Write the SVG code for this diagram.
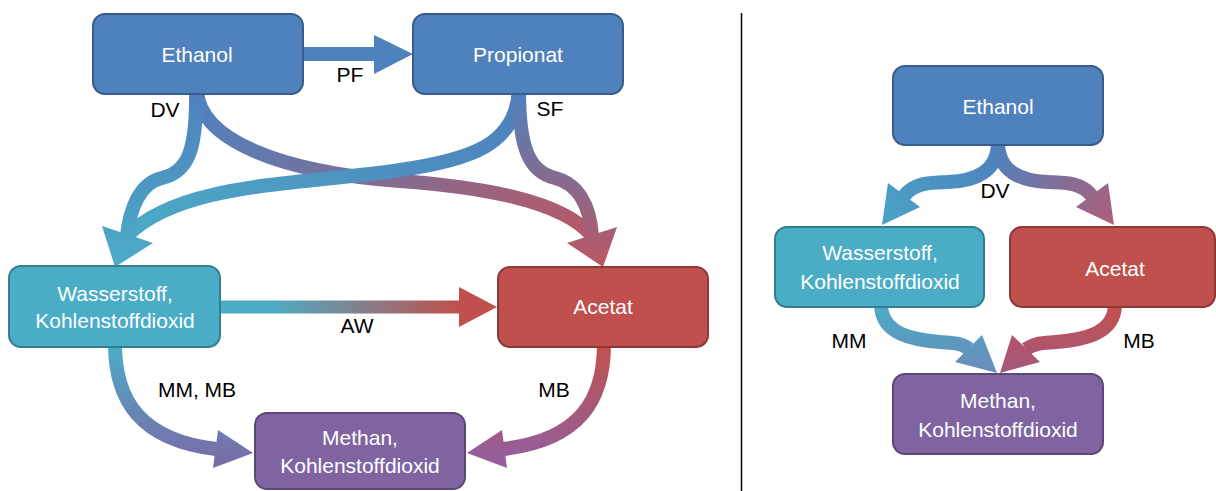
<svg xmlns="http://www.w3.org/2000/svg" width="1216" height="491" viewBox="0 0 1216 491">
<style>
.t{font-family:"Liberation Sans",Arial,sans-serif;font-size:21px;fill:#fff;text-anchor:middle}
.l{font-family:"Liberation Sans",Arial,sans-serif;font-size:21px;fill:#000;text-anchor:middle}
.sh{fill:none;stroke-width:14}
.blue{fill:#4F81BD;stroke:#385D8A;stroke-width:2}
.teal{fill:#4BACC6;stroke:#357D91;stroke-width:2}
.red{fill:#C0504D;stroke:#8C3836;stroke-width:2}
.purp{fill:#8064A2;stroke:#5C4776;stroke-width:2}
</style>
<defs>
<linearGradient id="gA1" gradientUnits="userSpaceOnUse" x1="0" y1="94" x2="0" y2="267"><stop offset="0" stop-color="#4F81BD"/><stop offset="1" stop-color="#4BACC6"/></linearGradient>
<linearGradient id="gA2" gradientUnits="userSpaceOnUse" x1="518" y1="94" x2="115" y2="267"><stop offset="0" stop-color="#4F81BD"/><stop offset="1" stop-color="#4BACC6"/></linearGradient>
<linearGradient id="gA3" gradientUnits="userSpaceOnUse" x1="197" y1="94" x2="603" y2="267"><stop offset="0" stop-color="#4F81BD"/><stop offset="1" stop-color="#BD5662"/></linearGradient>
<linearGradient id="gA4" gradientUnits="userSpaceOnUse" x1="0" y1="94" x2="0" y2="267"><stop offset="0" stop-color="#4F81BD"/><stop offset="1" stop-color="#BD5662"/></linearGradient>
<linearGradient id="gAW" gradientUnits="userSpaceOnUse" x1="270" y1="0" x2="460" y2="0"><stop offset="0" stop-color="#4BACC6"/><stop offset="1" stop-color="#C0504D"/></linearGradient>
<linearGradient id="gMM" gradientUnits="userSpaceOnUse" x1="0" y1="347" x2="0" y2="460"><stop offset="0" stop-color="#4BACC6"/><stop offset="1" stop-color="#7A6CA8"/></linearGradient>
<linearGradient id="gMB" gradientUnits="userSpaceOnUse" x1="0" y1="347" x2="0" y2="460"><stop offset="0" stop-color="#C0504D"/><stop offset="1" stop-color="#935F9C"/></linearGradient>
<linearGradient id="gR1" gradientUnits="userSpaceOnUse" x1="998" y1="145" x2="882" y2="225"><stop offset="0" stop-color="#4F81BD"/><stop offset="1" stop-color="#4AA2C6"/></linearGradient>
<linearGradient id="gR2" gradientUnits="userSpaceOnUse" x1="998" y1="145" x2="1114" y2="225"><stop offset="0" stop-color="#4F81BD"/><stop offset="1" stop-color="#B05D78"/></linearGradient>
<linearGradient id="gR3" gradientUnits="userSpaceOnUse" x1="0" y1="307" x2="0" y2="373"><stop offset="0" stop-color="#4BACC6"/><stop offset="1" stop-color="#6C8AB8"/></linearGradient>
<linearGradient id="gR4" gradientUnits="userSpaceOnUse" x1="0" y1="307" x2="0" y2="373"><stop offset="0" stop-color="#C0504D"/><stop offset="1" stop-color="#A4587F"/></linearGradient>
</defs>

<g id="connectors">
  <path d="M300 54 L376 54" fill="none" stroke="#4F81BD" stroke-width="14"/>
  <polygon points="374,35 413,54 374,74" fill="#4F81BD"/>
  <path class="sh" stroke="url(#gA3)" d="M197 90 C199 140 280 172 400 181 C480 187 562 200 592 236"/>
  <path class="sh" stroke="url(#gA2)" d="M519 90 C516 145 470 160 400 170 C300 185 180 182 127 236"/>
  <path class="sh" stroke="url(#gA1)" d="M196 90 C197 150 188 172 162 178 C140 183 130 208 127 236"/>
  <path class="sh" stroke="url(#gA4)" d="M519 90 C519 150 530 172 555 178 C578 184 590 205 592 236"/>
  <polygon points="102,226 115,267 153,243" fill="url(#gA1)"/>
  <polygon points="567,243 603,267 617,227" fill="url(#gA4)"/>
  <path d="M218 307 L461 307" fill="none" stroke="url(#gAW)" stroke-width="13"/>
  <polygon points="459,287 497,307 459,327" fill="#C0504D"/>
  <path class="sh" stroke="url(#gMM)" d="M115 344 C115 400 140 440 216 449"/>
  <polygon points="218,430 253,453 213,468" fill="url(#gMM)"/>
  <path class="sh" stroke="url(#gMB)" d="M604 344 C604 400 580 440 503 449"/>
  <polygon points="502,430 467,453 507,468" fill="url(#gMB)"/>
  <path class="sh" stroke="url(#gR1)" d="M998 142 C998 172 975 181 948 182 C930 183 915 182 904 196"/>
  <polygon points="888,183 882,225 920,207" fill="url(#gR1)"/>
  <path class="sh" stroke="url(#gR2)" d="M998 142 C998 172 1021 181 1048 182 C1066 183 1081 182 1092 196"/>
  <polygon points="1108,183 1114,225 1076,207" fill="url(#gR2)"/>
  <path class="sh" stroke="url(#gR3)" d="M881 304 C881 335 915 340 940 342 C950 343 960 342 969 349"/>
  <polygon points="982,335 997,373 955,362" fill="url(#gR3)"/>
  <path class="sh" stroke="url(#gR4)" d="M1115 304 C1115 335 1081 340 1056 342 C1046 343 1036 342 1026 349"/>
  <polygon points="1012,335 1000,373 1040,362" fill="url(#gR4)"/>
</g>

<g id="divider"><line x1="741.5" y1="13" x2="741.5" y2="491" stroke="#000" stroke-width="1.5"/></g>

<g id="ethanol-left"><rect class="blue" x="93" y="14" width="210" height="80" rx="12"/><text class="t" x="197" y="62">Ethanol</text></g>
<g id="propionat-left"><rect class="blue" x="413" y="14" width="210" height="80" rx="12"/><text class="t" x="518" y="62">Propionat</text></g>
<g id="wasserstoff-left"><rect class="teal" x="9" y="266" width="211" height="81" rx="12"/><text class="t" x="115" y="301">Wasserstoff,</text><text class="t" x="115" y="328">Kohlenstoffdioxid</text></g>
<g id="acetat-left"><rect class="red" x="498" y="267" width="210" height="80" rx="12"/><text class="t" x="603" y="314">Acetat</text></g>
<g id="methan-left"><rect class="purp" x="255" y="413" width="210" height="76" rx="12"/><text class="t" x="360" y="445">Methan,</text><text class="t" x="360" y="473">Kohlenstoffdioxid</text></g>

<g id="ethanol-right"><rect class="blue" x="893" y="66" width="210" height="79" rx="12"/><text class="t" x="998" y="114">Ethanol</text></g>
<g id="wasserstoff-right"><rect class="teal" x="775" y="227" width="209" height="80" rx="12"/><text class="t" x="880" y="260">Wasserstoff,</text><text class="t" x="880" y="289">Kohlenstoffdioxid</text></g>
<g id="acetat-right"><rect class="red" x="1010" y="227" width="205" height="80" rx="12"/><text class="t" x="1115" y="276">Acetat</text></g>
<g id="methan-right"><rect class="purp" x="893" y="374" width="210" height="80" rx="12"/><text class="t" x="998" y="408">Methan,</text><text class="t" x="998" y="437">Kohlenstoffdioxid</text></g>

<g id="labels">
  <text class="l" x="350" y="82">PF</text>
  <text class="l" x="165" y="117">DV</text>
  <text class="l" x="550" y="116">SF</text>
  <text class="l" x="357" y="333">AW</text>
  <text class="l" x="197" y="397">MM, MB</text>
  <text class="l" x="554" y="397">MB</text>
  <text class="l" x="995" y="198">DV</text>
  <text class="l" x="849" y="348">MM</text>
  <text class="l" x="1139" y="348">MB</text>
</g>
</svg>
